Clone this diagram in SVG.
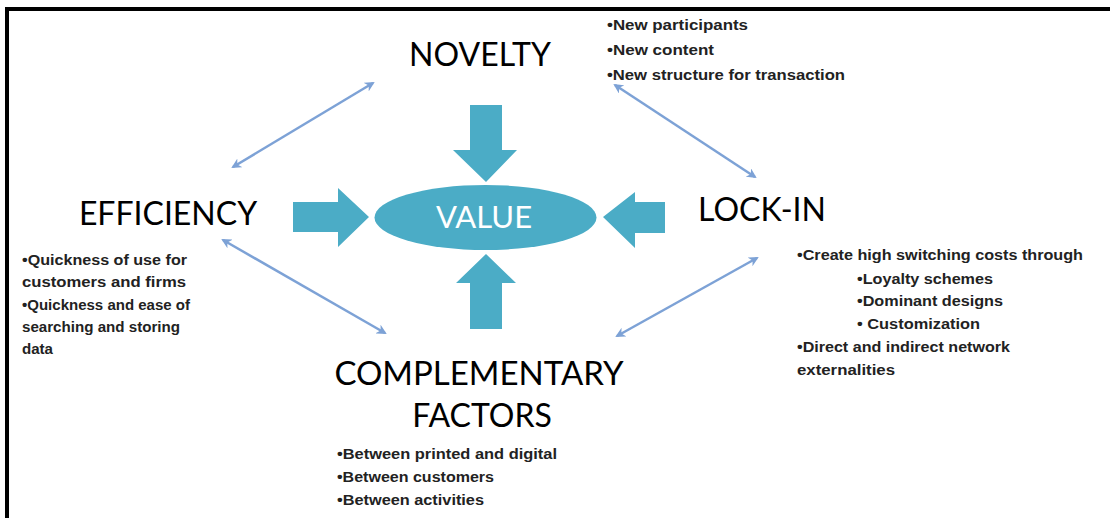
<svg xmlns="http://www.w3.org/2000/svg" width="1110" height="518" viewBox="0 0 1110 518">
<defs>
<style>
.h{font-family:Lato,"Open Sans","Liberation Sans",sans-serif;font-size:32px;fill:#000;text-anchor:middle}
.s{font-family:"Liberation Sans",Arial,sans-serif;font-size:14px;font-weight:bold;fill:#222}
.blk{fill:#4BACC6}
.con{stroke:#7DA2D6;stroke-width:2.5;fill:none;marker-start:url(#ah);marker-end:url(#ah)}
</style>
<marker id="ah" viewBox="0 0 10 10" refX="8" refY="5" markerWidth="4" markerHeight="4" orient="auto-start-reverse" markerUnits="strokeWidth">
<path d="M0,0 L10,5 L0,10 L3,5 Z" fill="#7DA2D6"/>
</marker>
</defs>
<rect width="1110" height="518" fill="#fff"/>
<g id="border" fill="#000">
<rect x="5" y="7" width="1105" height="4"/>
<rect x="5" y="7" width="4" height="511"/>
</g>
<g id="connectors">
<line class="con" x1="233" y1="167" x2="373" y2="83"/>
<line class="con" x1="615" y1="85" x2="755" y2="177"/>
<line class="con" x1="223" y1="240" x2="385" y2="333"/>
<line class="con" x1="617" y1="336" x2="757" y2="258"/>
</g>
<g id="arrows" class="blk">
<polygon points="470,105 502,105 502,150 517,150 486,182 453,150 470,150"/>
<polygon points="470,329 502,329 502,283 516,283 486,254 456,283 470,283"/>
<polygon points="293,202 338,202 338,188 369,217 338,247 338,232 293,232"/>
<polygon points="665,202 635,202 635,192 603,217 635,248 635,233 665,233"/>
</g>
<g id="value">
<ellipse cx="485.5" cy="217.5" rx="111" ry="32.5" fill="#4BACC6"/>
<text x="484" y="228" class="h" style="fill:#fff;font-size:31px">VALUE</text>
</g>
<g id="novelty">
<text x="480" y="66" class="h">NOVELTY</text>
<text class="s" x="607" y="30" textLength="141" lengthAdjust="spacingAndGlyphs">•New participants</text>
<text class="s" x="607" y="55" textLength="107" lengthAdjust="spacingAndGlyphs">•New content</text>
<text class="s" x="607" y="80" textLength="238" lengthAdjust="spacingAndGlyphs">•New structure for transaction</text>
</g>
<g id="efficiency">
<text x="168" y="225" class="h">EFFICIENCY</text>
<text class="s" x="22" y="265" textLength="165" lengthAdjust="spacingAndGlyphs">•Quickness of use for</text>
<text class="s" x="22" y="287" textLength="164" lengthAdjust="spacingAndGlyphs">customers and firms</text>
<text class="s" x="22" y="310" textLength="168" lengthAdjust="spacingAndGlyphs">•Quickness and ease of</text>
<text class="s" x="22" y="332" textLength="158" lengthAdjust="spacingAndGlyphs">searching and storing</text>
<text class="s" x="22" y="354" textLength="31" lengthAdjust="spacingAndGlyphs">data</text>
</g>
<g id="lockin">
<text x="762" y="221" class="h">LOCK-IN</text>
<text class="s" x="797" y="260" textLength="286" lengthAdjust="spacingAndGlyphs">•Create high switching costs through</text>
<text class="s" x="857" y="284" textLength="136" lengthAdjust="spacingAndGlyphs">•Loyalty schemes</text>
<text class="s" x="857" y="306" textLength="146" lengthAdjust="spacingAndGlyphs">•Dominant designs</text>
<text class="s" x="857" y="329" textLength="123" lengthAdjust="spacingAndGlyphs">• Customization</text>
<text class="s" x="797" y="352" textLength="213" lengthAdjust="spacingAndGlyphs">•Direct and indirect network</text>
<text class="s" x="797" y="375" textLength="98" lengthAdjust="spacingAndGlyphs">externalities</text>
</g>
<g id="complementary">
<text x="479" y="385" class="h" style="font-size:33px">COMPLEMENTARY</text>
<text x="482" y="427" class="h">FACTORS</text>
<text class="s" x="337" y="459" textLength="220" lengthAdjust="spacingAndGlyphs">•Between printed and digital</text>
<text class="s" x="337" y="482" textLength="157" lengthAdjust="spacingAndGlyphs">•Between customers</text>
<text class="s" x="337" y="505" textLength="147" lengthAdjust="spacingAndGlyphs">•Between activities</text>
</g>
</svg>
